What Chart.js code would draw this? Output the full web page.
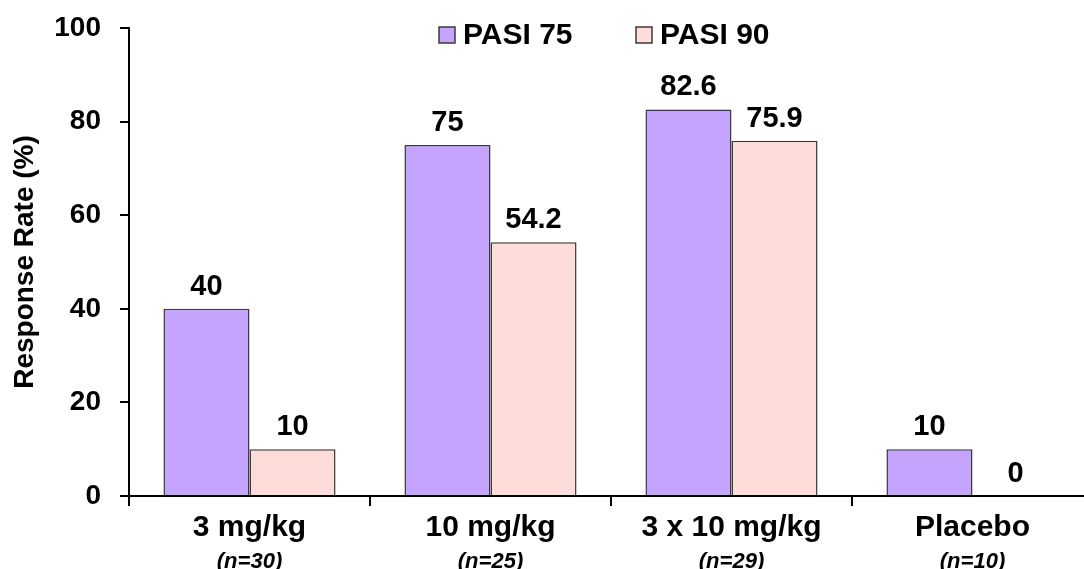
<!DOCTYPE html>
<html>
<head>
<meta charset="utf-8">
<script src="https://cdn.jsdelivr.net/npm/chart.js@4.4.1/dist/chart.umd.min.js"></script>
<style>
  html, body { margin: 0; padding: 0; background: #fff; overflow: hidden; }
  #wrap { width: 1094px; height: 569px; position: relative; }
</style>
</head>
<body>
<div id="wrap"><canvas id="responseChart"></canvas></div>
<script>
// chart values
const doseGroups = ['3 mg/kg', '10 mg/kg', '3 x 10 mg/kg', 'Placebo'];
const groupSizes = ['(n=30)', '(n=25)', '(n=29)', '(n=10)'];
const pasi75 = [40, 75, 82.6, 10];
const pasi90 = [10, 54.2, 75.9, 0];
const yTicks = [0, 20, 40, 60, 80, 100];

const FONT = '"Liberation Sans", Arial, Helvetica, sans-serif';

// bold value above every bar
const valueLabels = {
    id: 'valueLabels',
    afterDatasetsDraw(chart) {
        const ctx = chart.ctx;
        ctx.save();
        ctx.font = 'bold 29px ' + FONT;
        ctx.fillStyle = '#000';
        ctx.textAlign = 'center';
        ctx.textBaseline = 'alphabetic';
        chart.data.datasets.forEach((ds, i) => {
            chart.getDatasetMeta(i).data.forEach((bar, j) => {
                ctx.fillText(String(ds.data[j]), bar.x, bar.y - 14);
            });
        });
        ctx.restore();
    }
};

// second line of category labels, smaller and italic
const groupSizeLabels = {
    id: 'groupSizeLabels',
    afterDraw(chart) {
        const ctx = chart.ctx;
        const x = chart.scales.x;
        ctx.save();
        ctx.font = 'italic bold 22px ' + FONT;
        ctx.fillStyle = '#000';
        ctx.textAlign = 'center';
        ctx.textBaseline = 'middle';
        groupSizes.forEach((s, i) => {
            ctx.fillText(s, x.getPixelForValue(i), chart.chartArea.bottom + 66);
        });
        ctx.restore();
    }
};

// legend drawn inside the plot, across the top
const topLegend = {
    id: 'topLegend',
    afterDraw(chart) {
        const ctx = chart.ctx;
        const starts = [439, 636];
        const cy = 35;
        ctx.save();
        ctx.font = 'bold 30px ' + FONT;
        ctx.textBaseline = 'middle';
        ctx.textAlign = 'left';
        chart.data.datasets.forEach((ds, i) => {
            const x0 = starts[i];
            ctx.fillStyle = ds.backgroundColor;
            ctx.strokeStyle = ds.borderColor;
            ctx.lineWidth = 1.5;
            ctx.fillRect(x0, cy - 8, 16, 16);
            ctx.strokeRect(x0, cy - 8, 16, 16);
            ctx.fillStyle = '#000';
            ctx.fillText(ds.label, x0 + 24, cy + 1);
        });
        ctx.restore();
    }
};

const ctx = document.getElementById('responseChart').getContext('2d');
const responseChart = new Chart(ctx, {
    type: 'bar',
    data: {
        labels: doseGroups,
        datasets: [{
            label: 'PASI 75',
            data: pasi75,
            backgroundColor: '#C4A4FE',
            borderColor: '#3a3a3a',
            borderWidth: 1.5,
            barPercentage: 1,
            categoryPercentage: 0.714
        }, {
            label: 'PASI 90',
            data: pasi90,
            backgroundColor: '#FDDCDA',
            borderColor: '#3a3a3a',
            borderWidth: 1.5,
            barPercentage: 1,
            categoryPercentage: 0.714
        }]
    },
    options: {
        responsive: true,
        maintainAspectRatio: false,
        animation: false,
        layout: { padding: { top: 28, right: 1, bottom: 0, left: 0 } },
        plugins: {
            legend: { display: false },
            tooltip: { enabled: false }
        },
        scales: {
            x: {
                grid: {
                    drawOnChartArea: false,
                    drawTicks: true,
                    tickLength: 10,
                    color: '#000',
                    lineWidth: 2
                },
                border: { color: '#000', width: 2 },
                ticks: {
                    color: '#000',
                    padding: 4,
                    maxRotation: 0,
                    font: { family: FONT, size: 30, weight: 'bold' }
                },
                afterFit(scale) {
                    scale.height = 73;
                    scale.paddingLeft = 0;
                    scale.paddingRight = 0;
                }
            },
            y: {
                min: 0,
                max: 100,
                afterBuildTicks(scale) { scale.ticks = yTicks.map(v => ({ value: v })); },
                grid: {
                    drawOnChartArea: false,
                    drawTicks: true,
                    tickLength: 9,
                    color: '#000',
                    lineWidth: 2
                },
                border: { color: '#000', width: 2 },
                ticks: {
                    color: '#000',
                    padding: 19,
                    font: { family: FONT, size: 28, weight: 'bold' }
                },
                title: {
                    display: true,
                    text: 'Response Rate (%)',
                    color: '#000',
                    padding: { top: 8, bottom: 0 },
                    font: { family: FONT, size: 28, weight: 'bold' }
                },
                afterFit(scale) {
                    scale.width = 129;
                    scale.paddingTop = 0;
                    scale.paddingBottom = 0;
                }
            }
        }
    },
    plugins: [valueLabels, groupSizeLabels, topLegend]
});
</script>
</body>
</html>
